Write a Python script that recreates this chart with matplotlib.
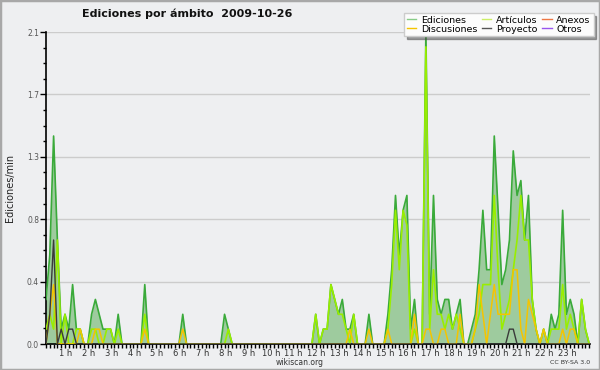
import numpy as np
import matplotlib.pyplot as plt
import matplotlib.transforms as mtransforms
from matplotlib.patches import Rectangle
from matplotlib.lines import Line2D

# 10-minute slots, 2009-10-26 (edits per minute)
hours = [str(h) + " h" for h in range(1, 24)]

ediciones = [
    0.3, 0.6, 1.4, 0.7, 0.1, 0.2, 0.1, 0.4, 0.1, 0.1, 0.0, 0.0,
    0.2, 0.3, 0.2, 0.1, 0.1, 0.1, 0.0, 0.2, 0.0, 0.0, 0.0, 0.0,
    0.0, 0.0, 0.4, 0.0, 0.0, 0.0, 0.0, 0.0, 0.0, 0.0, 0.0, 0.0,
    0.2, 0.0, 0.0, 0.0, 0.0, 0.0, 0.0, 0.0, 0.0, 0.0, 0.0, 0.2,
    0.1, 0.0, 0.0, 0.0, 0.0, 0.0, 0.0, 0.0, 0.0, 0.0, 0.0, 0.0,
    0.0, 0.0, 0.0, 0.0, 0.0, 0.0, 0.0, 0.0, 0.0, 0.0, 0.0, 0.2,
    0.0, 0.1, 0.1, 0.4, 0.3, 0.2, 0.3, 0.1, 0.1, 0.2, 0.0, 0.0,
    0.0, 0.2, 0.0, 0.0, 0.0, 0.0, 0.2, 0.5, 1.0, 0.6, 0.9, 1.0,
    0.1, 0.3, 0.0, 0.0, 2.1, 0.2, 1.0, 0.3, 0.2, 0.3, 0.3, 0.1,
    0.2, 0.3, 0.0, 0.0, 0.1, 0.2, 0.5, 0.9, 0.5, 0.5, 1.4, 0.9,
    0.4, 0.5, 0.7, 1.3, 1.0, 1.1, 0.7, 1.0, 0.3, 0.1, 0.0, 0.1,
    0.0, 0.2, 0.1, 0.2, 0.9, 0.2, 0.3, 0.2, 0.0, 0.3, 0.1, 0.0,
]
articulos = [
    0.1, 0.2, 0.1, 0.7, 0.0, 0.2, 0.0, 0.0, 0.1, 0.1, 0.0, 0.0,
    0.1, 0.1, 0.0, 0.0, 0.1, 0.1, 0.0, 0.1, 0.0, 0.0, 0.0, 0.0,
    0.0, 0.0, 0.2, 0.0, 0.0, 0.0, 0.0, 0.0, 0.0, 0.0, 0.0, 0.0,
    0.0, 0.0, 0.0, 0.0, 0.0, 0.0, 0.0, 0.0, 0.0, 0.0, 0.0, 0.0,
    0.1, 0.0, 0.0, 0.0, 0.0, 0.0, 0.0, 0.0, 0.0, 0.0, 0.0, 0.0,
    0.0, 0.0, 0.0, 0.0, 0.0, 0.0, 0.0, 0.0, 0.0, 0.0, 0.0, 0.2,
    0.0, 0.1, 0.1, 0.4, 0.3, 0.2, 0.2, 0.1, 0.0, 0.2, 0.0, 0.0,
    0.0, 0.0, 0.0, 0.0, 0.0, 0.0, 0.1, 0.4, 0.9, 0.5, 0.9, 0.8,
    0.0, 0.1, 0.0, 0.0, 2.0, 0.1, 0.5, 0.2, 0.2, 0.1, 0.2, 0.1,
    0.2, 0.1, 0.0, 0.0, 0.0, 0.1, 0.2, 0.4, 0.4, 0.4, 1.0, 0.5,
    0.1, 0.2, 0.3, 0.5, 0.7, 1.0, 0.7, 0.7, 0.3, 0.1, 0.0, 0.1,
    0.0, 0.1, 0.1, 0.1, 0.4, 0.1, 0.2, 0.1, 0.0, 0.3, 0.1, 0.0,
]
discusiones = [
    0.0, 0.2, 0.4, 0.0, 0.0, 0.0, 0.0, 0.0, 0.0, 0.1, 0.0, 0.0,
    0.0, 0.1, 0.1, 0.0, 0.0, 0.0, 0.0, 0.0, 0.0, 0.0, 0.0, 0.0,
    0.0, 0.0, 0.1, 0.0, 0.0, 0.0, 0.0, 0.0, 0.0, 0.0, 0.0, 0.0,
    0.1, 0.0, 0.0, 0.0, 0.0, 0.0, 0.0, 0.0, 0.0, 0.0, 0.0, 0.0,
    0.0, 0.0, 0.0, 0.0, 0.0, 0.0, 0.0, 0.0, 0.0, 0.0, 0.0, 0.0,
    0.0, 0.0, 0.0, 0.0, 0.0, 0.0, 0.0, 0.0, 0.0, 0.0, 0.0, 0.0,
    0.0, 0.0, 0.0, 0.0, 0.0, 0.0, 0.0, 0.0, 0.1, 0.0, 0.0, 0.0,
    0.0, 0.1, 0.0, 0.0, 0.0, 0.0, 0.1, 0.0, 0.0, 0.0, 0.0, 0.0,
    0.0, 0.2, 0.0, 0.0, 0.1, 0.1, 0.0, 0.0, 0.1, 0.1, 0.0, 0.0,
    0.0, 0.2, 0.0, 0.0, 0.0, 0.1, 0.4, 0.2, 0.0, 0.2, 0.4, 0.2,
    0.2, 0.2, 0.2, 0.5, 0.5, 0.1, 0.0, 0.3, 0.2, 0.1, 0.0, 0.1,
    0.0, 0.0, 0.0, 0.0, 0.1, 0.0, 0.1, 0.1, 0.0, 0.0, 0.0, 0.0,
]
proyecto = [
    0.0, 0.2, 0.7, 0.0, 0.1, 0.0, 0.1, 0.1, 0.0, 0.0, 0.0, 0.0,
] + [0.0] * 108 + [
    0.0, 0.0, 0.1, 0.1, 0.0, 0.0, 0.0, 0.0, 0.0, 0.0, 0.0, 0.0,
] + [0.0] * 12
anexos = [0.0] * 144
otros = [0.0] * 144

bg = '#eeeff1'
c_edic = '#3aaa3a'
c_fill = '#9ecb9e'
c_art = '#99ee00'
c_disc = '#f5c400'
c_proy = '#3a3a3a'
c_anex = '#ee7744'
c_otros = '#9955ee'

x = np.arange(len(ediciones))

fig = plt.figure(figsize=(6, 3.7), dpi=100)
fig.patch.set_facecolor(bg)
fig.patches.append(Rectangle((0, 0), 1, 1, transform=fig.transFigure,
                             fill=False, edgecolor='#a8a8a8', linewidth=2.5))
ax = fig.add_axes([46 / 600, 1 - 344 / 370, 544 / 600, 312 / 370])
ax.set_facecolor(bg)

ax.plot(x, anexos, color=c_anex, lw=1, zorder=2)
ax.plot(x, otros, color=c_otros, lw=1, zorder=2)
ax.fill_between(x, ediciones, color=c_fill, lw=0, zorder=2)
ax.plot(x, ediciones, color=c_edic, lw=1.2, zorder=3)
ax.plot(x, articulos, color=c_art, lw=1.2, zorder=4)
ax.plot(x, discusiones, color=c_disc, lw=1.1, zorder=5)
ax.plot(x, proyecto, color=c_proy, lw=1.0, zorder=6)

ax.set_xlim(0, 143.2)
ax.set_ylim(0, 2.1)
yt = np.linspace(0, 2.1, 6)
ax.set_yticks(yt)
ax.set_yticklabels(['%.1f' % v for v in yt])
ax.set_yticks(np.arange(0, 2.1, 0.105), minor=True)
ax.grid(axis='y', which='major', color='#cccccc', lw=1)
ax.set_axisbelow(True)

ax.set_xticks(np.arange(6, 144, 6))
ax.set_xticklabels(hours)
ax.set_xticks(np.arange(0, 144), minor=True)
ax.tick_params(axis='x', which='both', length=3, width=1, color='black',
               labelsize=6, labelcolor='#333333', pad=0.5)
ax.tick_params(axis='y', which='major', length=4, width=1, labelsize=5.5,
               labelcolor='#555555', pad=1)
ax.tick_params(axis='y', which='minor', length=2.5, width=1)
shift = mtransforms.ScaledTranslation(-3 / 100, 0, fig.dpi_scale_trans)
for lab in ax.get_xticklabels():
    lab.set_transform(lab.get_transform() + shift)

for s in ['top', 'right']:
    ax.spines[s].set_visible(False)
ax.spines['left'].set_linewidth(1.2)
ax.spines['bottom'].set_linewidth(1.2)

fig.text(187 / 600, 1 - 14 / 370, 'Ediciones por ámbito  2009-10-26',
         ha='center', va='center', fontsize=8, fontweight='bold', color='#111111')
fig.text(10 / 600, 1 - 188 / 370, 'Ediciones/min', rotation=90,
         ha='center', va='center', fontsize=7, color='#222222')
fig.text(300 / 600, 1 - 362.5 / 370, 'wikiscan.org', ha='center', va='center',
         fontsize=5.5, color='#333333')
fig.text(590 / 600, 1 - 362.5 / 370, 'CC BY-SA 3.0', ha='right', va='center',
         fontsize=4.5, color='#333333')

handles = [Line2D([], [], color=c, lw=1) for c in
           ['#88cc88', c_disc, '#ccee66', '#555555', c_anex, c_otros]]
labels = ['Ediciones', 'Discusiones', 'Artículos', 'Proyecto', 'Anexos', 'Otros']
leg = fig.legend(handles, labels, ncol=3, loc='upper left',
                 bbox_to_anchor=(399 / 600, 1 - 8 / 370), fontsize=6.8,
                 handlelength=1.0, handletextpad=0.5, columnspacing=0.5,
                 labelspacing=0.0, borderpad=0.3, fancybox=False, shadow=True,
                 framealpha=1, facecolor='#fcfcfc', edgecolor='#cccccc')

fig.savefig('out.png', dpi=100, facecolor=bg)
